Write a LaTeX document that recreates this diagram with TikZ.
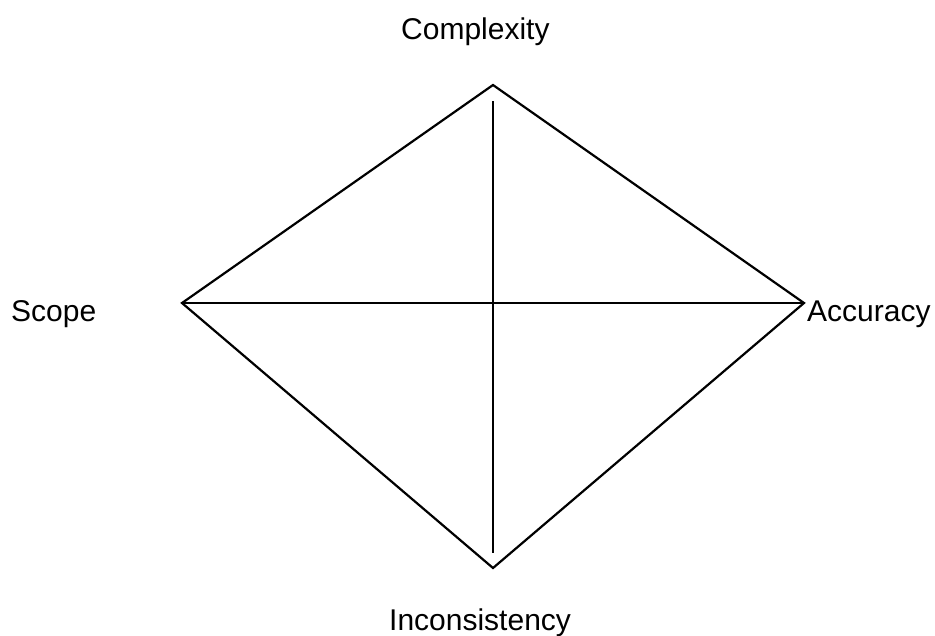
\documentclass[tikz,border=0pt]{standalone}
\usepackage{fontspec}
\setmainfont{Liberation Sans}
\begin{document}
\begin{tikzpicture}[x=1pt,y=-1pt,
  edge/.style={line width=2.2pt, line join=miter, black},
  lbl/.style={inner sep=0pt, font=\fontsize{30}{36}\selectfont, anchor=base west}]
\useasboundingbox (0,0) rectangle (935,635);
\coordinate (L) at (182,303);
\coordinate (T) at (493,85);
\coordinate (R) at (804,303);
\coordinate (B) at (493,568);
\coordinate (vt) at (493,101);
\coordinate (vb) at (493,553);
\draw[edge] (L) -- (T) -- (R) -- (B) -- cycle;
\draw[edge] (L) -- (R);
\draw[edge] (vt) -- (vb);
\node[lbl] (complexity) at (401,39) {Complexity};
\node[lbl] (scope) at (11,321) {Scope};
\node[lbl] (accuracy) at (807,321) {Accuracy};
\node[lbl] (inconsistency) at (389,630) {Inconsistency};
\end{tikzpicture}
\end{document}
